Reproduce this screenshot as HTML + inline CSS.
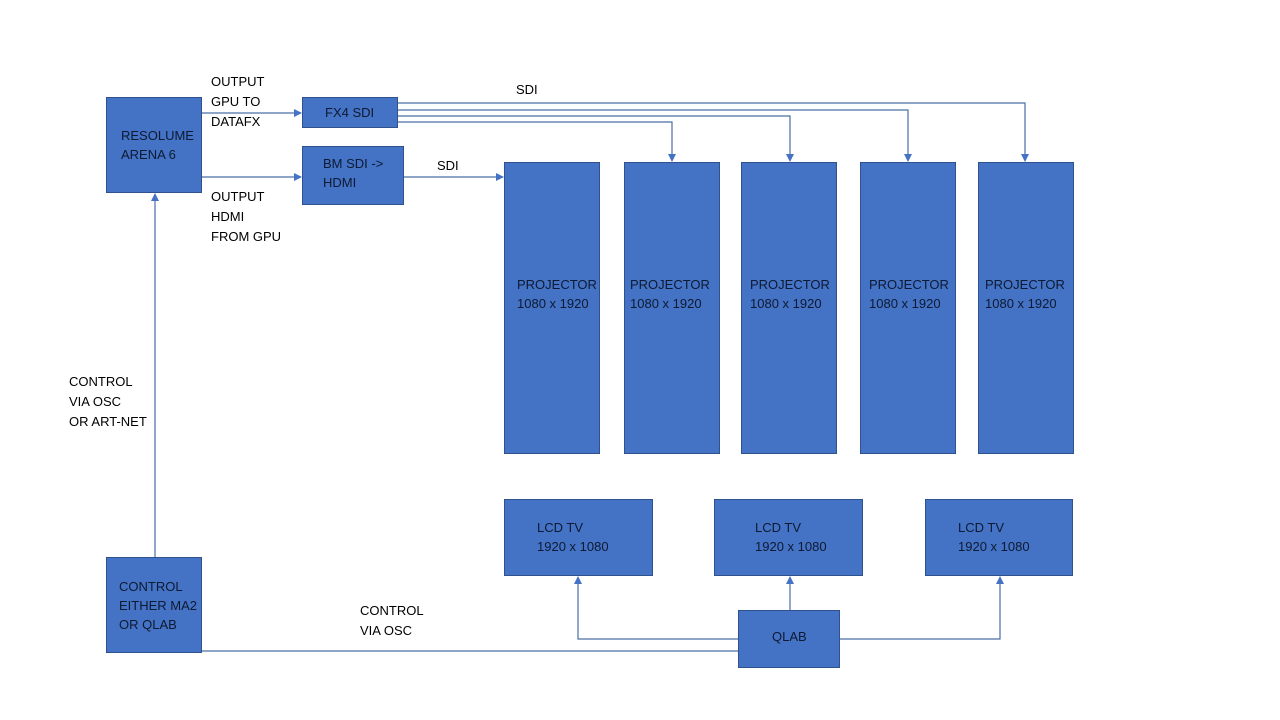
<!DOCTYPE html>
<html><head><meta charset="utf-8"><style>
html,body{margin:0;padding:0;background:#fff;}
body{width:1280px;height:720px;position:relative;overflow:hidden;font-family:"Liberation Sans",sans-serif;font-size:13px;color:#000;}
.b{position:absolute;background:#4472C4;border:1px solid #2F528F;box-sizing:border-box;color:#0d1a33;line-height:19px;}
.t{position:absolute;line-height:20px;white-space:nowrap;}
svg{position:absolute;left:0;top:0;}
</style></head><body>
<svg width="1280" height="720">
<defs><marker id="a" markerWidth="8" markerHeight="8" refX="7" refY="4" orient="auto" markerUnits="userSpaceOnUse"><path d="M0,0 L8,4 L0,8z" fill="#4472C4"/></marker></defs>
<g stroke="#4a6fa8" stroke-width="1.2" fill="none">
<path d="M202 113 H301" marker-end="url(#a)"/>
<path d="M202 177 H301" marker-end="url(#a)"/>
<path d="M404 177 H503" marker-end="url(#a)"/>
<path d="M398 103 H1025 V161" marker-end="url(#a)"/>
<path d="M398 110 H908 V161" marker-end="url(#a)"/>
<path d="M398 116 H790 V161" marker-end="url(#a)"/>
<path d="M398 122 H672 V161" marker-end="url(#a)"/>
<path d="M155 557 V194" marker-end="url(#a)"/>
<path d="M202 651 H738"/>
<path d="M738 639 H578 V577" marker-end="url(#a)"/>
<path d="M790 610 V577" marker-end="url(#a)"/>
<path d="M840 639 H1000 V577" marker-end="url(#a)"/>
</g>
</svg>
<div class="b" style="left:106px;top:97px;width:96px;height:96px;padding:28px 0 0 14px">RESOLUME<br>ARENA 6</div>
<div class="b" style="left:302px;top:97px;width:96px;height:31px;padding:5px 0 0 22px">FX4 SDI</div>
<div class="b" style="left:302px;top:146px;width:102px;height:59px;padding:7px 0 0 20px">BM SDI -&gt;<br>HDMI</div>
<div class="b" style="left:504px;top:162px;width:96px;height:292px;padding:112px 0 0 12px">PROJECTOR<br>1080 x 1920</div>
<div class="b" style="left:624px;top:162px;width:96px;height:292px;padding:112px 0 0 5px">PROJECTOR<br>1080 x 1920</div>
<div class="b" style="left:741px;top:162px;width:96px;height:292px;padding:112px 0 0 8px">PROJECTOR<br>1080 x 1920</div>
<div class="b" style="left:860px;top:162px;width:96px;height:292px;padding:112px 0 0 8px">PROJECTOR<br>1080 x 1920</div>
<div class="b" style="left:978px;top:162px;width:96px;height:292px;padding:112px 0 0 6px">PROJECTOR<br>1080 x 1920</div>
<div class="b" style="left:504px;top:499px;width:149px;height:77px;padding:18px 0 0 32px">LCD TV<br>1920 x 1080</div>
<div class="b" style="left:714px;top:499px;width:149px;height:77px;padding:18px 0 0 40px">LCD TV<br>1920 x 1080</div>
<div class="b" style="left:925px;top:499px;width:148px;height:77px;padding:18px 0 0 32px">LCD TV<br>1920 x 1080</div>
<div class="b" style="left:738px;top:610px;width:102px;height:58px;padding:16px 0 0 33px">QLAB</div>
<div class="b" style="left:106px;top:557px;width:96px;height:96px;padding:19px 0 0 12px">CONTROL<br>EITHER MA2<br>OR QLAB</div>
<div class="t" style="left:211px;top:72px">OUTPUT<br>GPU TO<br>DATAFX</div>
<div class="t" style="left:211px;top:187px">OUTPUT<br>HDMI<br>FROM GPU</div>
<div class="t" style="left:516px;top:80px">SDI</div>
<div class="t" style="left:437px;top:156px">SDI</div>
<div class="t" style="left:69px;top:372px">CONTROL<br>VIA OSC<br>OR ART-NET</div>
<div class="t" style="left:360px;top:601px">CONTROL<br>VIA OSC</div>
</body></html>
